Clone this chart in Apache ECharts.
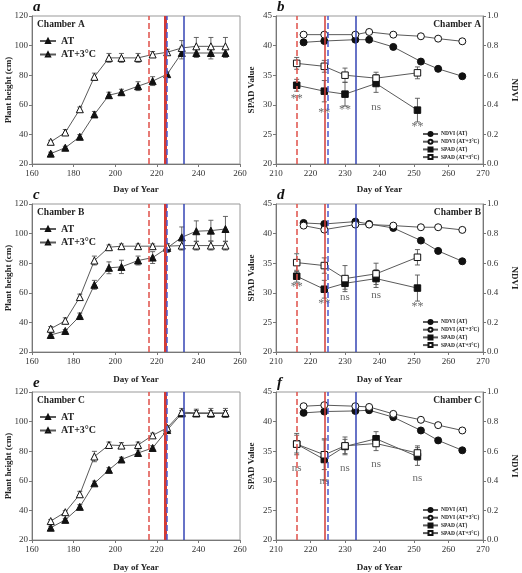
<!DOCTYPE html>
<html><head><meta charset="utf-8">
<script src="https://cdn.jsdelivr.net/npm/echarts@6/dist/echarts.min.js"></script>
<style>html,body{margin:0;padding:0;background:#fff}#c{width:522px;height:573px}</style>
</head><body><div id="c"></div><script>
// ---------------- DATA ----------------
const heightDays = [169,176,183,190,197,203,211,218,225,232,239,246,253];
const heightAT_A    = [27,31,38.4,53.5,66.5,68.5,72.6,76,80.7,95,95,95,95];
const heightATErr_A = [1,1,1.5,2,2,2,3,3,1.5,4,3,4,3];
const heightAT3_A    = [35,41.3,57,78.9,91.7,91.7,91.7,94,95.5,98.4,99.5,99.5,99.5];
const heightAT3Err_A = [1,2,1.5,2.5,3,3,3,2,2,5,6,6,6];
const heightAT_B    = [31.5,34.2,44.3,65.4,76.9,77.5,81.8,83.8,90.3,97.5,101.6,102,103.1];
const heightATErr_B = [1.5,1,2,3,4,4.5,3,4,3,7,7,7,8.5];
const heightAT3_B    = [35.7,41.1,57.1,81.8,90.8,91.5,91.5,91.5,91.5,91.9,91.9,91.9,91.9];
const heightAT3Err_B = [1.5,2,2,3,1.5,1.5,1.5,1.5,1.5,3,3,3,3];
const heightAT_C    = [28.3,33.6,42.4,58.3,67.4,74.4,78.8,82.2,94.3,105.5,105.5,105.5,105.5];
const heightATErr_C = [1,1,1.5,1.5,1.5,1.5,2,1.5,2,2,2,2,2];
const heightAT3_C    = [32.8,38.8,50.9,76.4,84.2,83.8,84.2,90.7,95.8,106.4,105.9,105.9,105.9];
const heightAT3Err_C = [1,1,2,3.5,2,2,2,1.5,1.5,2.5,2.5,3,3];

const ndviDays = [218,224,233,237,244,252,257,264];
const ndviAT_A  = [0.822,0.831,0.840,0.840,0.791,0.692,0.643,0.593];
const ndviAT3_A = [0.874,0.874,0.874,0.892,0.874,0.863,0.847,0.829];
const ndviAT_B  = [0.872,0.865,0.881,0.865,0.838,0.753,0.683,0.613];
const ndviAT3_B = [0.854,0.827,0.861,0.861,0.854,0.843,0.843,0.825];
const ndviAT_C  = [0.859,0.868,0.872,0.877,0.830,0.740,0.673,0.606];
const ndviAT3_C = [0.904,0.911,0.904,0.899,0.852,0.812,0.776,0.740];

const spadDays = [216,224,230,239,251];
const spadAT_A    = [33.3,32.3,31.8,33.6,29.1];
const spadATErr_A = [1,1.8,2,1.5,2];
const spadAT3_A    = [37.0,36.5,35.0,34.5,35.4];
const spadAT3Err_A = [1,1,1.2,1,1];
const spadAT_B    = [32.8,30.6,31.6,32.4,30.8];
const spadATErr_B = [1,1.5,1,1.5,2.2];
const spadAT3_B    = [35.1,34.6,32.4,33.2,36.0];
const spadAT3Err_B = [1.5,1.3,2.2,1.8,1.3];
const spadAT_C    = [36.2,33.6,35.8,37.1,34.1];
const spadATErr_C = [1.5,3.5,1.2,1.2,1.5];
const spadAT3_C    = [36.2,34.4,35.9,36.3,34.7];
const spadAT3Err_C = [1.8,2.5,1.5,1.2,1.2];

const sigText_A = ['**','**','**','ns','**'];
const sigY_A    = [31.0,28.7,29.2,29.6,26.3];
const sigText_B = ['**','**','ns','ns','**'];
const sigY_B    = [31.0,28.2,29.2,29.6,27.6];
const sigText_C = ['ns','ns','ns','ns','ns'];
const sigY_C    = [32.2,29.9,32.1,32.8,30.4];

const stageDays = [216,224,225,233];

const heightTicks = {min:20, max:120, interval:20};
const heightDayTicks = {min:160, max:260, interval:20};
const spadTicks = {min:20, max:45, interval:5};
const ndviTicks = {min:0, max:1, interval:0.2};
const spadDayTicks = {min:210, max:270, interval:10};

const chambers = ['Chamber A','Chamber B','Chamber C'];
const letters = [['a','b'],['c','d'],['e','f']];
const legendLeft = ['AT','AT+3°C'];
const legendRight = ['NDVI (AT)','NDVI (AT+3°C)','SPAD (AT)','SPAD (AT+3°C)'];

// ---------------- BUILD ----------------
const FONT = 'Liberation Serif';
const rowTop = [16,204,392], H = 148;
const LX = 32, LW = 208, RX = 276, RW = 207;
const grids=[], xAxes=[], yAxes=[], series=[], legends=[], graphics=[];

const hData = [
  [heightAT_A,heightATErr_A,heightAT3_A,heightAT3Err_A],
  [heightAT_B,heightATErr_B,heightAT3_B,heightAT3Err_B],
  [heightAT_C,heightATErr_C,heightAT3_C,heightAT3Err_C]];
const nData = [[ndviAT_A,ndviAT3_A],[ndviAT_B,ndviAT3_B],[ndviAT_C,ndviAT3_C]];
const sData = [
  [spadAT_A,spadATErr_A,spadAT3_A,spadAT3Err_A],
  [spadAT_B,spadATErr_B,spadAT3_B,spadAT3Err_B],
  [spadAT_C,spadATErr_C,spadAT3_C,spadAT3Err_C]];
const sig = [[sigText_A,sigY_A],[sigText_B,sigY_B],[sigText_C,sigY_C]];

const axisCommon = {
  axisLine:{show:true,lineStyle:{color:'#777',width:1}},
  axisTick:{show:true,length:3,lineStyle:{color:'#777'}},
  splitLine:{show:false},
  axisLabel:{fontFamily:FONT,fontSize:9,color:'#333',margin:5}
};

function xAx(gi,t){return Object.assign({type:'value',gridIndex:gi},t,axisCommon);}
function yAx(gi,t,pos,fmt){
  const a = Object.assign({type:'value',gridIndex:gi,position:pos},t,axisCommon);
  a.axisLabel = Object.assign({},axisCommon.axisLabel,{margin:4});
  if(fmt) a.axisLabel.formatter = fmt;
  return a;
}
function errSeries(xi,yi,days,vals,errs,cap){
  return {type:'custom',xAxisIndex:xi,yAxisIndex:yi,silent:true,z:1,
    encode:{x:0,y:[1,2]},
    data:days.map((d,i)=>[d,vals[i]-errs[i],vals[i]+errs[i]]),
    renderItem:function(p,api){
      const lo=api.coord([api.value(0),api.value(1)]);
      const hi=api.coord([api.value(0),api.value(2)]);
      const st={stroke:'#555',lineWidth:0.9};
      return {type:'group',children:[
        {type:'line',shape:{x1:lo[0],y1:lo[1],x2:hi[0],y2:hi[1]},style:st},
        {type:'line',shape:{x1:lo[0]-cap,y1:lo[1],x2:lo[0]+cap,y2:lo[1]},style:st},
        {type:'line',shape:{x1:hi[0]-cap,y1:hi[1],x2:hi[0]+cap,y2:hi[1]},style:st}]};
    }};
}
function lineSeries(name,xi,yi,days,vals,symbol,size,filled,extra){
  return Object.assign({type:'line',name:name,xAxisIndex:xi,yAxisIndex:yi,
    data:days.map((d,i)=>[d,vals[i]]),symbol:symbol,symbolSize:size,z:3,
    showAllSymbol:true,
    itemStyle:{color:filled?'#111':'#fff',borderColor:'#111',borderWidth:1},
    lineStyle:{color:'#5a5a5a',width:1}},extra||{});
}
function stageMark(thickRed){
  const cols=['#e0504a','#d23a36','#4a5bd0','#3444b4'];
  const types=['dashed','solid','dashed','solid'];
  return {silent:true,symbol:['none','none'],label:{show:false},animation:false,
    data:stageDays.map((d,i)=>({xAxis:d,lineStyle:{color:cols[i],type:types[i],
      width:(thickRed&&i===1)?3:1.5}}))};
}

for(let r=0;r<3;r++){
  const top=rowTop[r];
  // left grid
  const gL = grids.length;
  grids.push({left:LX,top:top,width:LW,height:H,show:true,borderColor:'#999',borderWidth:1,backgroundColor:'transparent'});
  const xL = xAxes.length; xAxes.push(xAx(gL,heightDayTicks));
  const yL = yAxes.length; yAxes.push(yAx(gL,heightTicks,'left'));
  const hd = hData[r];
  series.push(errSeries(xL,yL,heightDays,hd[0],hd[1],2.5));
  series.push(errSeries(xL,yL,heightDays,hd[2],hd[3],2.5));
  series.push(lineSeries('AT',xL,yL,heightDays,hd[0],'triangle',7,true,{markLine:stageMark(true)}));
  series.push(lineSeries('AT+3°C',xL,yL,heightDays,hd[2],'triangle',7,false));
  legends.push({orient:'vertical',left:39,top:top+20,padding:0,itemWidth:16,itemHeight:5,itemGap:3.5,
    data:legendLeft,selectedMode:false,
    textStyle:{fontFamily:FONT,fontWeight:'bold',fontSize:10,lineHeight:10,color:'#222',padding:[0,0,0,0]}});

  // right grid
  const gR = grids.length;
  grids.push({left:RX,top:top,width:RW,height:H,show:true,borderColor:'#999',borderWidth:1,backgroundColor:'transparent'});
  const xR = xAxes.length; xAxes.push(xAx(gR,spadDayTicks));
  const ySp = yAxes.length; yAxes.push(yAx(gR,spadTicks,'left'));
  const yNd = yAxes.length; yAxes.push(yAx(gR,ndviTicks,'right',v=>v.toFixed(1)));
  const sd = sData[r], nd = nData[r];
  series.push(errSeries(xR,ySp,spadDays,sd[0],sd[1],2.5));
  series.push(errSeries(xR,ySp,spadDays,sd[2],sd[3],2.5));
  series.push(lineSeries('NDVI (AT)',xR,yNd,ndviDays,nd[0],'circle',7,true,{markLine:stageMark(false)}));
  series.push(lineSeries('NDVI (AT+3°C)',xR,yNd,ndviDays,nd[1],'circle',7,false));
  series.push(lineSeries('SPAD (AT)',xR,ySp,spadDays,sd[0],'rect',6.5,true));
  series.push(lineSeries('SPAD (AT+3°C)',xR,ySp,spadDays,sd[2],'rect',6.5,false));
  const st = sig[r];
  series.push({type:'scatter',xAxisIndex:xR,yAxisIndex:ySp,symbolSize:0,silent:true,z:4,
    data:spadDays.map((d,i)=>({value:[d,st[1][i]],label:{fontSize: st[0][i]==='**'?12:11}})),
    label:{show:true,position:'inside',fontFamily:FONT,color:'#444',
      formatter:p=>st[0][p.dataIndex]}});
  legends.push({orient:'vertical',left:422,top:top+115,padding:0,itemWidth:15,itemHeight:5,itemGap:1.7,
    data:legendRight,selectedMode:false,
    textStyle:{fontFamily:FONT,fontWeight:'bold',fontSize:5.5,lineHeight:6,color:'#222',padding:[0,0,0,-2]}});

  // texts
  const mid = top+H/2;
  graphics.push({type:'text',left:33,top:top-16,style:{text:letters[r][0],font:'italic bold 15px '+FONT,fill:'#111'}});
  graphics.push({type:'text',left:277,top:top-16,style:{text:letters[r][1],font:'italic bold 15px '+FONT,fill:'#111'}});
  graphics.push({type:'text',left:37,top:top+4,style:{text:chambers[r],font:'bold 9.5px '+FONT,fill:'#222'}});
  graphics.push({type:'text',right:41,top:top+4,style:{text:chambers[r],font:'bold 9.5px '+FONT,fill:'#222'}});
  graphics.push({type:'text',x:9,y:mid,rotation:Math.PI/2,style:{text:'Plant height (cm)',font:'bold 9px '+FONT,fill:'#222',textAlign:'center',textVerticalAlign:'middle'}});
  graphics.push({type:'text',x:252,y:mid,rotation:Math.PI/2,style:{text:'SPAD Value',font:'bold 9px '+FONT,fill:'#222',textAlign:'center',textVerticalAlign:'middle'}});
  graphics.push({type:'text',x:514,y:mid,rotation:-Math.PI/2,style:{text:'NDVI',font:'bold 9px '+FONT,fill:'#222',textAlign:'center',textVerticalAlign:'middle'}});
  const dy = [190,380,568][r];
  graphics.push({type:'text',x:LX+LW/2,y:dy,style:{text:'Day of Year',font:'bold 9px '+FONT,fill:'#222',textAlign:'center',textVerticalAlign:'middle'}});
  graphics.push({type:'text',x:RX+RW/2,y:dy,style:{text:'Day of Year',font:'bold 9px '+FONT,fill:'#222',textAlign:'center',textVerticalAlign:'middle'}});
}

const chart = echarts.init(document.getElementById('c'));
chart.setOption({
  animation:false,
  backgroundColor:'#fff',
  textStyle:{fontFamily:FONT},
  grid:grids, xAxis:xAxes, yAxis:yAxes, series:series, legend:legends, graphic:graphics
});
</script></body></html>
